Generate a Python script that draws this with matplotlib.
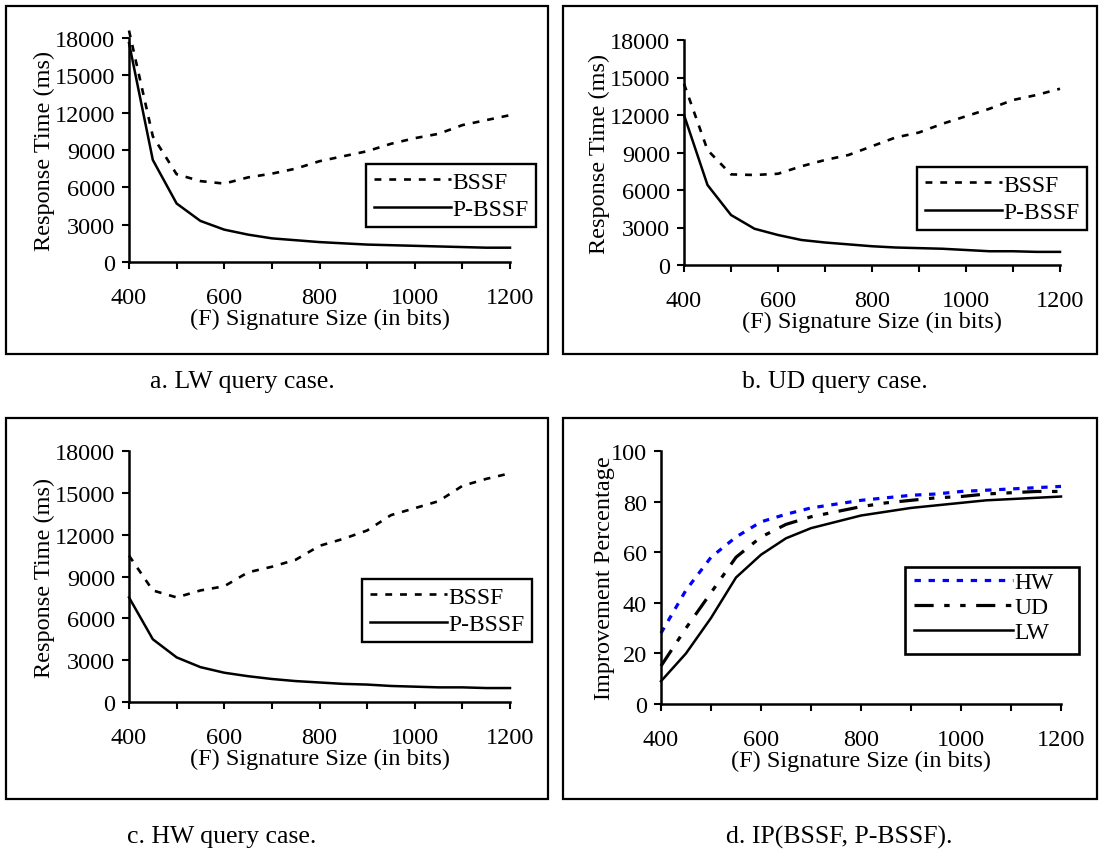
import numpy as np
import matplotlib
matplotlib.use("Agg")
import matplotlib.pyplot as plt
from matplotlib.patches import Rectangle

plt.rcParams['font.family'] = ['Liberation Serif', 'DejaVu Serif']
plt.rcParams['font.size'] = 17.5

# signature sizes F (bits)
sig_size = [400, 450, 500, 550, 600, 650, 700, 750, 800, 850, 900, 950,
            1000, 1050, 1100, 1150, 1200]

# response times (ms), LW query case
lw_bssf = [18600, 10100, 7050, 6500, 6300, 6800, 7100, 7500, 8100, 8500,
           8900, 9500, 9950, 10300, 11000, 11400, 11800]
lw_pbssf = [17600, 8200, 4700, 3300, 2600, 2200, 1900, 1750, 1600, 1500,
            1400, 1350, 1300, 1250, 1200, 1150, 1150]

# response times (ms), UD query case
ud_bssf = [14500, 9200, 7250, 7200, 7300, 7900, 8400, 8800, 9500, 10200,
           10600, 11300, 11900, 12500, 13200, 13600, 14100]
ud_pbssf = [12000, 6400, 4000, 2900, 2400, 2000, 1800, 1650, 1500, 1400,
            1350, 1300, 1200, 1100, 1100, 1050, 1050]

# response times (ms), HW query case
hw_bssf = [10500, 8000, 7500, 8000, 8300, 9300, 9700, 10200, 11200, 11700,
           12300, 13400, 13900, 14400, 15500, 16000, 16400]
hw_pbssf = [7500, 4500, 3200, 2500, 2100, 1850, 1650, 1500, 1400, 1300,
            1250, 1150, 1100, 1050, 1050, 1000, 1000]

# improvement percentage IP(BSSF, P-BSSF)
ip_hw = [28, 45, 58, 66, 72, 75, 77.5, 79, 80.5, 81.5, 82.5, 83, 84, 84.5,
         85, 85.5, 86]
ip_ud = [15, 30, 44, 58, 66, 71, 74, 76, 78, 79.5, 80.5, 81.5, 82, 83,
         83.5, 84, 84]
ip_lw = [9, 20, 34, 50, 59, 65.5, 69.5, 72, 74.5, 76, 77.5, 78.5, 79.5,
         80.5, 81, 81.5, 82]

captions = ["a. LW query case.", "b. UD query case.",
            "c. HW query case.", "d. IP(BSSF, P-BSSF)."]

W, H = 1101, 853
fig = plt.figure(figsize=(W / 100, H / 100), dpi=100)


def px_axes(left, top, right, bottom):
    return fig.add_axes([left / W, 1 - bottom / H, (right - left) / W,
                         (bottom - top) / H])


def px_box(left, top, right, bottom, lw=1.6):
    fig.patches.append(Rectangle((left / W, 1 - bottom / H), (right - left) / W,
                                 (bottom - top) / H, transform=fig.transFigure,
                                 fill=False, ec='black', lw=lw))


def style_axes(ax, ymax, ystep, ylabel, ypad=0):
    ax.set_xlim(400, 1200)
    ax.set_ylim(0, ymax)
    for s in ['top', 'right']:
        ax.spines[s].set_visible(False)
    for s in ['left', 'bottom']:
        ax.spines[s].set_linewidth(1.8)
    ax.set_xticks(range(400, 1201, 200))
    ax.set_xticks(range(500, 1200, 200), minor=True)
    ax.set_yticks(np.arange(0, ymax + 1, ystep))
    ax.tick_params(which='both', direction='out', length=5, width=1.5)
    ax.tick_params(axis='x', pad=13)
    ax.tick_params(axis='y', pad=5)
    ax.set_xlabel("(F) Signature Size (in bits)", labelpad=0)
    ax.set_ylabel(ylabel, labelpad=ypad)
    ax.patch.set_visible(False)


bssf_style = dict(color='black', lw=1.9, linestyle=(0, (2.6, 3.0)), clip_on=False)
pbssf_style = dict(color='black', lw=1.8, clip_on=False)


def time_panel(rect, bssf, pbssf, leg_anchor):
    ax = px_axes(*rect)
    ax.plot(sig_size, bssf, label='BSSF', **bssf_style)
    ax.plot(sig_size, pbssf, label='P-BSSF', **pbssf_style)
    style_axes(ax, 18000, 3000, "Response Time (ms)")
    leg = ax.legend(loc='upper right',
                    bbox_to_anchor=(leg_anchor[0] / W, 1 - leg_anchor[1] / H),
                    bbox_transform=fig.transFigure, fancybox=False,
                    edgecolor='black', framealpha=1, handlelength=3.3,
                    handletextpad=0.05, borderpad=0.3, labelspacing=0.25,
                    borderaxespad=0, fontsize=17)
    leg.get_frame().set_linewidth(1.7)
    return ax


time_panel((129, 39, 510, 263), lw_bssf, lw_pbssf, (536, 165))
time_panel((684, 41, 1060, 266), ud_bssf, ud_pbssf, (1087, 168))
time_panel((129, 452, 510, 703), hw_bssf, hw_pbssf, (532, 580))

ax = px_axes(661, 452, 1061, 705)
ax.plot(sig_size, ip_hw, color='#0000ff', lw=2.3, linestyle=(0, (2.0, 2.4)),
        label='HW', clip_on=False)
ax.plot(sig_size, ip_ud, color='black', lw=2.3,
        linestyle=(0, (6, 3.3, 1.7, 3.3, 1.7, 3.3)), label='UD', clip_on=False)
ax.plot(sig_size, ip_lw, color='black', lw=1.8, label='LW', clip_on=False)
style_axes(ax, 100, 20, "Improvement Percentage", ypad=-3)
ax.legend(loc='upper right', bbox_to_anchor=(1058 / W, 1 - 568 / H),
          bbox_transform=fig.transFigure, frameon=False, handlelength=4.2,
          handletextpad=0.05, borderpad=0.2, labelspacing=0.15, borderaxespad=0,
          fontsize=17)
px_box(905, 568, 1079, 655, lw=1.9)

# panel frames
px_box(6, 7, 548, 355)
px_box(563, 7, 1097, 355)
px_box(6, 419, 548, 800)
px_box(563, 419, 1097, 800)

for txt, (cx, cy) in zip(captions, [(242, 382), (835, 382), (222, 837), (839, 837)]):
    fig.text(cx / W, 1 - cy / H, txt, ha='center', va='center', fontsize=18.5)

fig.savefig("out.png", dpi=100)
